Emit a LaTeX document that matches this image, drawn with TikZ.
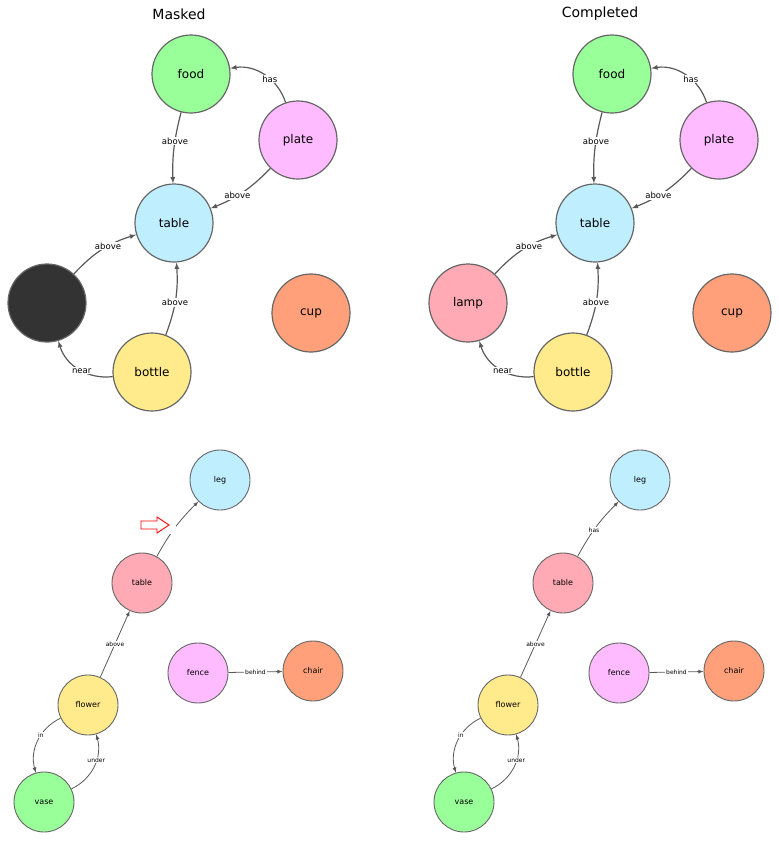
\documentclass[tikz,border=0pt]{standalone}
\usepackage{fontspec}
\setmainfont{DejaVu Sans}
\begin{document}
\begin{tikzpicture}[x=1pt, y=-1pt, thick,
    obj/.style = {draw=black!60, line width=1.2pt, circle, minimum size=78pt, inner sep=0pt, font=\fontsize{12}{14}\selectfont},
    sobj/.style = {obj, minimum size=60pt, line width=0.9pt, font=\fontsize{8}{9}\selectfont},
    rel/.style = {draw=black!65, line width=1.2pt, -latex},
    srel/.style = {draw=black!65, line width=0.8pt, -latex},
    lab/.style = {fill=white, inner sep=1pt, font=\fontsize{8.5}{9}\selectfont},
    slab/.style = {fill=white, inner sep=0.8pt, font=\fontsize{6}{7}\selectfont}]
    \useasboundingbox (0,0) rectangle (779,841);
    \definecolor{cgreen}{HTML}{99FF99}
    \definecolor{cpink}{HTML}{FFBBFF}
    \definecolor{cblue}{HTML}{BFEEFF}
    \definecolor{cyellow}{HTML}{FFEA8C}
    \definecolor{corange}{HTML}{FFA07A}
    \definecolor{crose}{HTML}{FFAAB4}

    \node[font=\fontsize{14}{16}\selectfont] (tm) at (179,14) {Masked};
    \node[font=\fontsize{14}{16}\selectfont] (tc) at (600,14) {Completed};

    % masked, top
    \node[obj, fill=cgreen] (mfood) at (191,74) {food};
    \node[obj, fill=cpink] (mplate) at (298,140) {plate};
    \node[obj, fill=cblue] (mtable) at (174,223) {table};
    \node[obj, fill=black!80] (mmask) at (47,303) {};
    \node[obj, fill=cyellow] (mbottle) at (152,372) {bottle};
    \node[obj, fill=corange] (mcup) at (311,313) {cup};
    \draw[rel] (mfood) to[bend right=8] node[lab, pos=0.4] {above} (mtable);
    \draw[rel] (mplate) to[bend right=40] node[lab, pos=0.4] {has} (mfood);
    \draw[rel] (mplate) to[bend left=12] node[lab, pos=0.6] {above} (mtable);
    \draw[rel] (mmask) to[bend left=15] node[lab, pos=0.6] {above} (mtable);
    \draw[rel] (mbottle) to[bend right=12] node[lab, pos=0.45] {above} (mtable);
    \draw[rel] (mbottle) to[bend left=40] node[lab, pos=0.45] {near} (mmask);

    % completed, top
    \node[obj, fill=cgreen] (cfood) at (612,74) {food};
    \node[obj, fill=cpink] (cplate) at (719,140) {plate};
    \node[obj, fill=cblue] (ctable) at (595,223) {table};
    \node[obj, fill=crose] (clamp) at (468,303) {lamp};
    \node[obj, fill=cyellow] (cbottle) at (573,372) {bottle};
    \node[obj, fill=corange] (ccup) at (732,313) {cup};
    \draw[rel] (cfood) to[bend right=8] node[lab, pos=0.4] {above} (ctable);
    \draw[rel] (cplate) to[bend right=40] node[lab, pos=0.4] {has} (cfood);
    \draw[rel] (cplate) to[bend left=12] node[lab, pos=0.6] {above} (ctable);
    \draw[rel] (clamp) to[bend left=15] node[lab, pos=0.6] {above} (ctable);
    \draw[rel] (cbottle) to[bend right=12] node[lab, pos=0.45] {above} (ctable);
    \draw[rel] (cbottle) to[bend left=40] node[lab, pos=0.45] {near} (clamp);

    % masked, bottom
    \node[sobj, fill=cblue] (mleg) at (220,480) {leg};
    \node[sobj, fill=crose] (mtable2) at (142,583) {table};
    \node[sobj, fill=cyellow] (mflower) at (88,705) {flower};
    \node[sobj, fill=cgreen] (mvase) at (44,802) {vase};
    \node[sobj, fill=cpink] (mfence) at (198,673) {fence};
    \node[sobj, fill=corange] (mchair) at (313,671) {chair};
    \draw[srel] (mtable2) to[bend left=8] node[slab, pos=0.45, minimum width=6pt, minimum height=8pt] {} (mleg);
    \draw[srel] (mflower) -- node[slab, pos=0.5] {above} (mtable2);
    \draw[srel] (mflower) to[bend right=40] node[slab, pos=0.4] {in} (mvase);
    \draw[srel] (mvase) to[bend right=40] node[slab, pos=0.6] {under} (mflower);
    \draw[srel] (mfence) -- node[slab] {behind} (mchair);
    \draw[red, line width=0.9pt] (141,521) -- (157,521) -- (157,517) -- (169,525)
        -- (157,533) -- (157,529) -- (141,529) -- cycle;

    % completed, bottom
    \node[sobj, fill=cblue] (cleg) at (640,480) {leg};
    \node[sobj, fill=crose] (ctable2) at (563,583) {table};
    \node[sobj, fill=cyellow] (cflower) at (508,705) {flower};
    \node[sobj, fill=cgreen] (cvase) at (464,802) {vase};
    \node[sobj, fill=cpink] (cfence) at (619,673) {fence};
    \node[sobj, fill=corange] (cchair) at (734,671) {chair};
    \draw[srel] (ctable2) to[bend left=8] node[slab, pos=0.45] {has} (cleg);
    \draw[srel] (cflower) -- node[slab, pos=0.5] {above} (ctable2);
    \draw[srel] (cflower) to[bend right=40] node[slab, pos=0.4] {in} (cvase);
    \draw[srel] (cvase) to[bend right=40] node[slab, pos=0.6] {under} (cflower);
    \draw[srel] (cfence) -- node[slab] {behind} (cchair);
\end{tikzpicture}
\end{document}
